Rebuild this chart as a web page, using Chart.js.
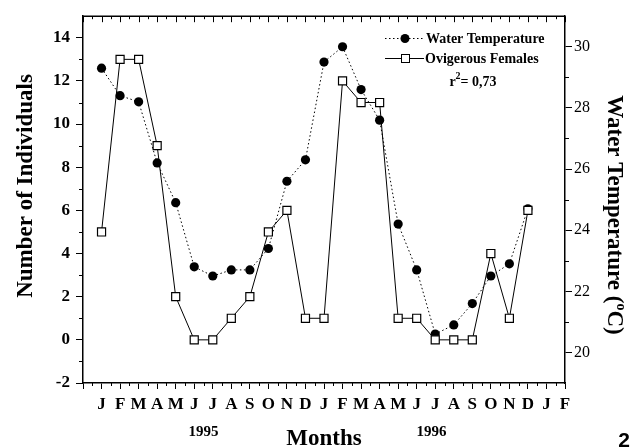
<!DOCTYPE html>
<html lang="en">
<head>
<meta charset="UTF-8">
<title>Ovigerous females and water temperature</title>
<style>
  body { margin: 0; background: #fff; }
</style>
</head>
<body>

<canvas id="myCanvas" width="631" height="448"></canvas>

<script src="https://cdn.jsdelivr.net/npm/chart.js@4.4.0/dist/chart.umd.min.js"></script>
<script>

// month letters, Jan 1995 .. Feb 1997
var months = ['J','F','M','A','M','J','J','A','S','O','N','D',
              'J','F','M','A','M','J','J','A','S','O','N','D','J','F'];
var years = ['1995', '1996'];
var countTicks = [-2, 0, 2, 4, 6, 8, 10, 12, 14];
var tempTicks = [20, 22, 24, 26, 28, 30];

// Jan 1995 .. Dec 1996
var females = [5, 13, 13, 9, 2, 0, 0, 1, 2, 5, 6, 1,
               1, 12, 11, 11, 1, 1, 0, 0, 0, 4, 1, 6];
var waterTemp = [29.3, 28.4, 28.2, 26.2, 24.9, 22.8, 22.5, 22.7, 22.7, 23.4, 25.6, 26.3,
                 29.5, 30.0, 28.6, 27.6, 24.2, 22.7, 20.6, 20.9, 21.6, 22.5, 22.9, 24.7];

var SERIF = '"Liberation Serif", "DejaVu Serif", serif';

function points(values) {
    return values.map(function(v, i) { return {x: i, y: v}; });
}

var extras = {
    id: 'extras',
    afterDraw: function(chart) {
        var ctx = chart.ctx;
        var a = chart.chartArea;
        var x = chart.scales.x, y = chart.scales.y, y1 = chart.scales.y1;
        ctx.save();
        ctx.strokeStyle = '#000';

        // top frame
        ctx.lineWidth = 1.5;
        ctx.beginPath();
        ctx.moveTo(a.left, a.top);
        ctx.lineTo(a.right, a.top);
        ctx.stroke();

        // minor ticks and top ticks
        ctx.lineWidth = 1;
        ctx.beginPath();
        for (var m = -1; m <= 25; m += 0.5) {
            var px = Math.round(x.getPixelForValue(m)) + 0.5;
            var whole = (m % 1 === 0);
            ctx.moveTo(px, a.top);
            ctx.lineTo(px, a.top + (whole ? 6 : 3));
            if (!whole) {
                ctx.moveTo(px, a.bottom);
                ctx.lineTo(px, a.bottom + 3);
            }
        }
        for (var v = -1; v < 15; v += 2) {
            var py = Math.round(y.getPixelForValue(v)) + 0.5;
            ctx.moveTo(a.left, py);
            ctx.lineTo(a.left - 4, py);
        }
        for (var t = 21; t < 31; t += 2) {
            var py1 = Math.round(y1.getPixelForValue(t)) + 0.5;
            ctx.moveTo(a.right, py1);
            ctx.lineTo(a.right + 4, py1);
        }
        ctx.stroke();

        ctx.fillStyle = '#000';

        // axis titles
        ctx.font = 'bold 23px ' + SERIF;
        ctx.textAlign = 'center';
        ctx.textBaseline = 'alphabetic';
        ctx.fillText('Months', 324, 445);

        ctx.save();
        ctx.translate(32, 186);
        ctx.rotate(-Math.PI / 2);
        ctx.fillText('Number of Individuals', 0, 0);
        ctx.restore();

        // right title with superscript degree
        ctx.save();
        ctx.translate(608, 215);
        ctx.rotate(Math.PI / 2);
        var p1 = 'Water Temperature (', p3 = 'C)';
        var bigFont = 'bold 23px ' + SERIF, smallFont = 'bold 14px ' + SERIF;
        ctx.font = bigFont;
        var w1 = ctx.measureText(p1).width, w3 = ctx.measureText(p3).width;
        ctx.font = smallFont;
        var w2 = ctx.measureText('o').width;
        var start = -(w1 + w2 + w3) / 2;
        ctx.textAlign = 'left';
        ctx.font = bigFont;
        ctx.fillText(p1, start, 0);
        ctx.font = smallFont;
        ctx.fillText('o', start + w1, -9);
        ctx.font = bigFont;
        ctx.fillText(p3, start + w1 + w2, 0);
        ctx.restore();

        // years
        ctx.font = 'bold 15px ' + SERIF;
        ctx.textAlign = 'center';
        ctx.fillText(years[0], x.getPixelForValue(5.5), 436);
        ctx.fillText(years[1], x.getPixelForValue(17.8), 436);

        // legend
        ctx.font = 'bold 14px ' + SERIF;
        ctx.textAlign = 'left';
        ctx.textBaseline = 'middle';
        ctx.lineWidth = 1;
        ctx.setLineDash([1.5, 2.5]);
        ctx.beginPath();
        ctx.moveTo(385, 38.5);
        ctx.lineTo(424, 38.5);
        ctx.stroke();
        ctx.setLineDash([]);
        ctx.beginPath();
        ctx.arc(405, 38.5, 4.5, 0, Math.PI * 2);
        ctx.fill();
        ctx.fillText('Water Temperature', 426, 39);

        ctx.beginPath();
        ctx.moveTo(385, 58.5);
        ctx.lineTo(424, 58.5);
        ctx.stroke();
        ctx.fillStyle = '#fff';
        ctx.fillRect(401.5, 54.5, 8, 8);
        ctx.strokeRect(401.5, 54.5, 8, 8);
        ctx.fillStyle = '#000';
        ctx.fillText('Ovigerous Females', 425, 59);

        // r squared
        var r1 = 'r', r3 = '= 0,73';
        var wr1 = ctx.measureText(r1).width, wr3 = ctx.measureText(r3).width;
        ctx.font = 'bold 10px ' + SERIF;
        var wr2 = ctx.measureText('2').width;
        var rs = 473 - (wr1 + wr2 + wr3) / 2;
        ctx.font = 'bold 14px ' + SERIF;
        ctx.fillText(r1, rs, 82);
        ctx.font = 'bold 10px ' + SERIF;
        ctx.fillText('2', rs + wr1, 76);
        ctx.font = 'bold 14px ' + SERIF;
        ctx.fillText(r3, rs + wr1 + wr2, 82);

        // panel number
        ctx.font = 'bold 21px "Liberation Sans", Arial, sans-serif';
        ctx.textAlign = 'right';
        ctx.textBaseline = 'alphabetic';
        ctx.fillText('2', 630, 447);

        ctx.restore();
    }
};

var canvas = document.getElementById('myCanvas');
var context = canvas.getContext('2d');

var chart = new Chart(context, {
    type: 'line',
    data: {
        datasets: [
            {
                label: 'Ovigerous Females',
                data: points(females),
                yAxisID: 'y',
                borderColor: '#000',
                borderWidth: 1,
                pointStyle: 'rect',
                pointRadius: 5.7,
                pointBackgroundColor: '#fff',
                pointBorderColor: '#000',
                pointBorderWidth: 1.2,
                tension: 0
            },
            {
                label: 'Water Temperature',
                data: points(waterTemp),
                yAxisID: 'y1',
                borderColor: '#000',
                borderWidth: 1,
                borderDash: [1.5, 2.5],
                pointStyle: 'circle',
                pointRadius: 4.6,
                pointBackgroundColor: '#000',
                pointBorderColor: '#000',
                pointBorderWidth: 0,
                tension: 0
            }
        ]
    },
    options: {
        responsive: false,
        animation: false,
        layout: {padding: {top: 13, left: 0, right: 0, bottom: 0}},
        plugins: {legend: {display: false}, tooltip: {enabled: false}},
        scales: {
            x: {
                type: 'linear',
                min: -1,
                max: 25,
                afterFit: function(s) { s.height = 65; },
                ticks: {
                    stepSize: 1,
                    autoSkip: false,
                    maxRotation: 0,
                    padding: 5,
                    color: '#000',
                    font: {family: SERIF, size: 17, weight: 'bold'},
                    callback: function(v) { return months[v] || ''; }
                },
                grid: {drawOnChartArea: false, tickLength: 6, color: '#000', lineWidth: 1},
                border: {color: '#000', width: 1.5}
            },
            y: {
                position: 'left',
                min: -2,
                max: 15,
                afterFit: function(s) { s.width = 83; },
                afterBuildTicks: function(s) {
                    s.ticks = countTicks.map(function(v) { return {value: v}; });
                },
                ticks: {
                    padding: 6,
                    color: '#000',
                    font: {family: SERIF, size: 17, weight: 'bold'}
                },
                grid: {drawOnChartArea: false, tickLength: 7, color: '#000', lineWidth: 1},
                border: {color: '#000', width: 1.5}
            },
            y1: {
                position: 'right',
                min: 19,
                max: 31,
                afterFit: function(s) { s.width = 66; },
                afterBuildTicks: function(s) {
                    s.ticks = tempTicks.map(function(v) { return {value: v}; });
                },
                ticks: {
                    padding: 2,
                    color: '#000',
                    font: {family: SERIF, size: 16}
                },
                grid: {drawOnChartArea: false, tickLength: 7, color: '#000', lineWidth: 1},
                border: {color: '#000', width: 1.5}
            }
        }
    },
    plugins: [extras]
});
</script>
</body>
</html>
